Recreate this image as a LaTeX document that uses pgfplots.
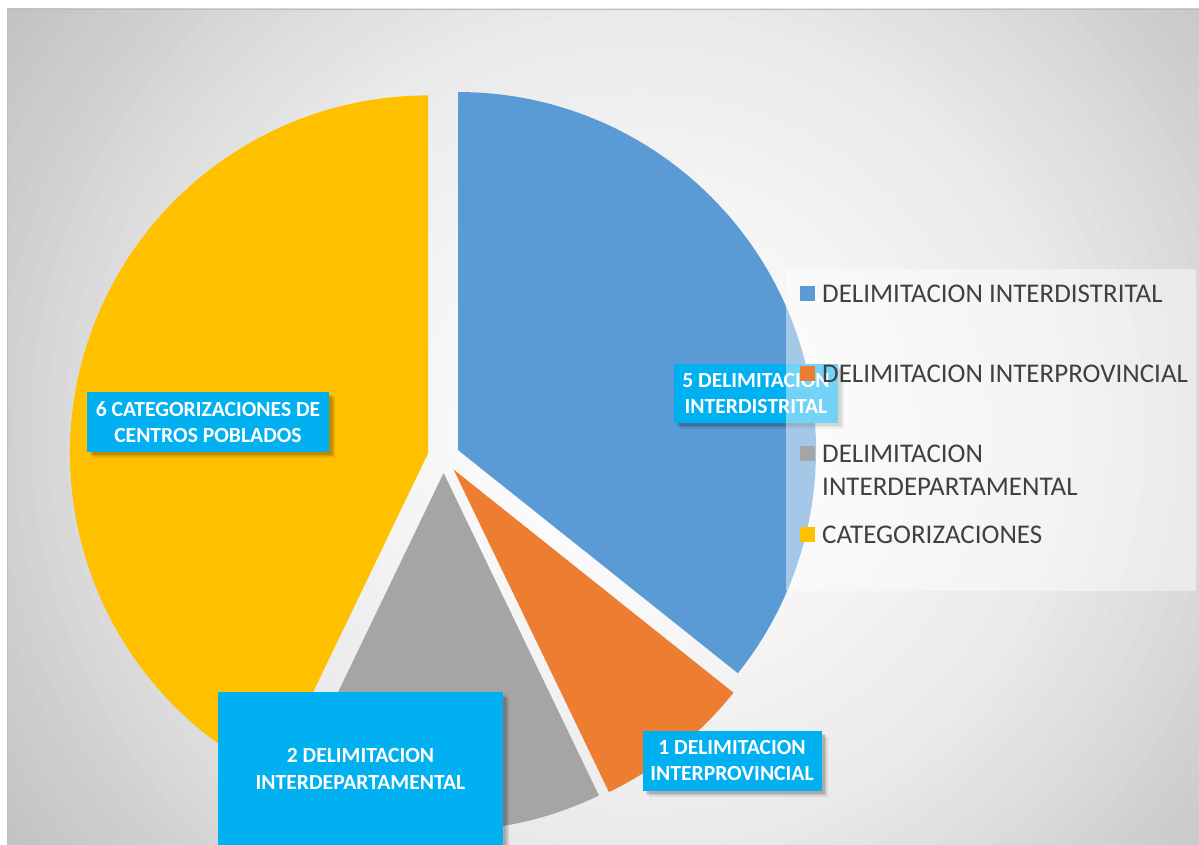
\documentclass[border=0pt]{standalone}
\usepackage{pgfplots}
\pgfplotsset{compat=1.18}
\usepackage{fontspec}
\setmainfont{Carlito}
\usetikzlibrary{calc,shadows}
\definecolor{sblue}{HTML}{5B9BD5}
\definecolor{sorange}{HTML}{ED7D31}
\definecolor{sgray}{HTML}{A5A5A5}
\definecolor{syellow}{HTML}{FFC000}
\definecolor{lblbox}{HTML}{00B0F0}
\definecolor{legtext}{HTML}{404040}
\definecolor{bgD}{HTML}{C0C0C0}
\definecolor{bgborder}{HTML}{BDBDBD}
\tikzset{lbl/.style={fill=lblbox, text=white, font=\bfseries\fontsize{21.6}{26.5}\selectfont, align=center, inner sep=0pt,
  drop shadow={shadow xshift=6pt, shadow yshift=-6pt, fill=black, opacity=0.07},
  drop shadow={shadow xshift=4.5pt, shadow yshift=-4.5pt, fill=black, opacity=0.1},
  drop shadow={shadow xshift=3pt, shadow yshift=-3pt, fill=black, opacity=0.12}},
  leg/.style={anchor=west, inner sep=0pt, text=legtext, font=\fontsize{27}{33}\selectfont}}
% values: 5, 1, 2, 6 (total 14); slices given as cumulative start/end
\newcommand{\pieslice}[3]{%
  \fill[#3] ($(axis cs:443.6,387)+({90-(#1+#2)/28*360}:16pt)$) -- ++({90-#1/14*360}:358pt)
    arc[start angle={90-#1/14*360}, end angle={90-#2/14*360}, radius=358pt] -- cycle;}
\begin{document}
\begin{tikzpicture}
\useasboundingbox (0,0) rectangle (1199pt,844pt);
% background (chart area gradient)
\fill[white] (0,0) rectangle (1199pt,844pt);
\begin{scope}
\clip (7pt,0) rectangle (1199pt,835pt);
\fill[bgD] (0,0) rectangle (1199pt,844pt);
\foreach \r in {1.0,0.98,...,0.06}{
  \pgfmathsetmacro\m{\r-0.01}
  \pgfmathtruncatemacro\g{(\m<0.08) ? 255 : ((\m<0.5) ? 255-50*(\m-0.08) : ((\m<0.7) ? 234-105*(\m-0.5) : ((\m<0.86) ? 213-106*(\m-0.7) : max(192,196-28.6*(\m-0.86)))))}
  \definecolor{tmpbg}{RGB}{\g,\g,\g}
  \fill[tmpbg] (640pt,414pt) ellipse [x radius=\r*871pt, y radius=\r*840pt];
}
\end{scope}
\draw[bgborder, line width=1.5pt] (7.5pt,0) -- (7.5pt,834.5pt) -- (1199pt,834.5pt);
\begin{axis}[x=1pt,y=1pt,xmin=0,xmax=1199,ymin=0,ymax=844,hide axis,scale only axis,clip=false,at={(0,0)},anchor=south west]
% pie
\pieslice{0}{5}{sblue}
\pieslice{5}{6}{sorange}
\pieslice{6}{8}{sgray}
\pieslice{8}{14}{syellow}
% data labels
\begin{scope}
\clip (axis cs:7,0) rectangle (axis cs:1199,835);
\node[lbl, minimum width=164pt, minimum height=59pt] at (axis cs:756,450.5) {5 DELIMITACION\\INTERDISTRITAL};
\node[lbl, minimum width=179pt, minimum height=60pt] at (axis cs:732,83.5) {1 DELIMITACION\\INTERPROVINCIAL};
\node[lbl, minimum width=242pt, minimum height=60pt] at (axis cs:208,422) {6 CATEGORIZACIONES DE\\CENTROS POBLADOS};
\fill[black, opacity=0.07] (axis cs:224,-30) rectangle (axis cs:509,146);
\fill[black, opacity=0.1] (axis cs:222.5,-30) rectangle (axis cs:507.5,147.5);
\fill[black, opacity=0.12] (axis cs:221,-30) rectangle (axis cs:506,149);
\fill[lblbox] (axis cs:218,-30) rectangle (axis cs:503,152);
\node[text=white, font=\bfseries\fontsize{21.6}{26.5}\selectfont, align=center, inner sep=0pt] at (axis cs:360.5,75) {2 DELIMITACION\\INTERDEPARTAMENTAL};
\end{scope}
% legend
\fill[white, opacity=0.45] (axis cs:786,575) rectangle (axis cs:1196,253);
\fill[sblue] (axis cs:800,543) rectangle (axis cs:815,558);
\fill[sorange] (axis cs:800,463) rectangle (axis cs:815,478);
\fill[sgray] (axis cs:800,383) rectangle (axis cs:815,398);
\fill[syellow] (axis cs:800,302) rectangle (axis cs:815,317);
\node[leg] at (axis cs:822,550.5) {DELIMITACION INTERDISTRITAL};
\node[leg] at (axis cs:822,470.5) {DELIMITACION INTERPROVINCIAL};
\node[leg] at (axis cs:822,390.5) {DELIMITACION};
\node[leg] at (axis cs:822,357) {INTERDEPARTAMENTAL};
\node[leg] at (axis cs:822,309.5) {CATEGORIZACIONES};
\end{axis}
\end{tikzpicture}
\end{document}
